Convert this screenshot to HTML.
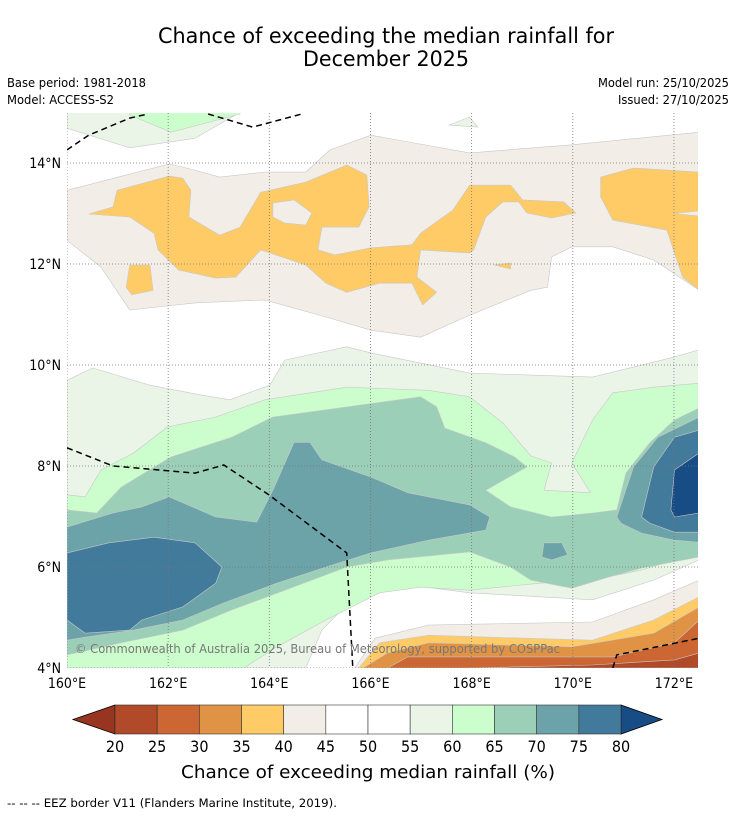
<!DOCTYPE html>
<html><head><meta charset="utf-8"><style>
html,body{margin:0;padding:0;background:#fff;}
svg{display:block;font-family:"DejaVu Sans Condensed","DejaVu Sans","Liberation Sans",sans-serif;}
</style></head><body>
<svg id="chart" width="736" height="816" viewBox="0 0 736 816" xmlns="http://www.w3.org/2000/svg">
<rect width="736" height="816" fill="#fff"/>
<text x="386" y="43" font-size="21" text-anchor="middle" textLength="456" lengthAdjust="spacingAndGlyphs">Chance of exceeding the median rainfall for</text>
<text x="386" y="66" font-size="21" text-anchor="middle" textLength="166" lengthAdjust="spacingAndGlyphs">December 2025</text>
<text x="7" y="87" font-size="12" textLength="139" lengthAdjust="spacingAndGlyphs">Base period: 1981-2018</text>
<text x="7" y="104" font-size="12" textLength="107" lengthAdjust="spacingAndGlyphs">Model: ACCESS-S2</text>
<text x="729" y="87" font-size="12" text-anchor="end" textLength="131" lengthAdjust="spacingAndGlyphs">Model run: 25/10/2025</text>
<text x="729" y="104" font-size="12" text-anchor="end" textLength="111" lengthAdjust="spacingAndGlyphs">Issued: 27/10/2025</text>
<defs><clipPath id="mapclip"><rect x="67" y="113" width="631" height="555"/></clipPath></defs>
<g id="map" clip-path="url(#mapclip)"></g>
<g id="axes"></g>
<g id="cbar"></g>
<text x="368" y="778" font-size="18" text-anchor="middle" textLength="374" lengthAdjust="spacingAndGlyphs">Chance of exceeding median rainfall (%)</text>
<text x="7" y="807" font-size="11.5" textLength="330" lengthAdjust="spacingAndGlyphs">--  --  -- EEZ border V11 (Flanders Marine Institute, 2019).</text>
</svg>
<script>
const lonTicks=[160,162,164,166,168,170,172];
const latTicks=[4,6,8,10,12,14];
const cbarLevels=[20,25,30,35,40,45,50,55,60,65,70,75,80];
const cbarColors=["#b04a28","#cc6633","#e09344","#fecb66","#f2ede7","#ffffff","#ffffff","#eaf5e8","#ccfdcc","#9ccfb8","#6ba3a8","#427a9c"];
const underColor="#983520", overColor="#174c85";
// contour regions: [colour class, flat lon/lat list]
const regions=[
["55",[160,15,160,14.69,161.24,14.3,162.53,14.49,163.42,15]],
["60",[161.24,15,161.24,14.95,162.06,14.61,163.42,14.97,163.42,15]],
["55",[167.55,14.75,167.96,14.91,168.12,14.71]],
["40",[160,13.46,162.02,13.98,162.29,13.92,163.02,13.72,163.91,13.82,164.72,13.82,165.2,14.26,166.01,14.55,167.96,14.2,169.98,14.36,172.5,14.61,172.5,11.48,171.6,12.08,170.79,12.34,169.98,12.34,169.58,12.14,169.5,11.54,169.17,11.48,167.88,10.95,166.99,10.55,166.01,10.69,165.12,10.95,163.91,11.29,162.53,11.23,161.24,11.09,160.67,11.94,160,12.47]],
["35",[160.43,12.99,160.91,13.13,160.99,13.46,162.02,13.74,162.29,13.7,162.45,13.46,162.41,12.93,163.02,12.57,163.42,12.73,163.83,13.42,164.72,13.62,165.53,13.96,165.93,13.76,165.97,13.13,165.77,12.73,165.04,12.73,164.96,12.28,165.3,12.18,166.01,12.32,166.82,12.38,166.99,12.61,167.63,13.07,167.96,13.56,168.77,13.56,169.01,13.27,169.82,13.23,170.06,13.01,169.58,12.91,169.09,13.01,168.93,13.23,168.62,13.23,168.28,12.93,168.04,12.28,167.96,12.22,166.99,12.28,166.92,11.74,167.31,11.44,167.03,11.19,166.82,11.62,166.18,11.62,165.53,11.44,165.12,11.62,164.72,11.98,163.83,12.28,163.34,11.74,162.94,11.72,162.21,11.88,161.8,12.28,161.72,12.61,161.24,12.93]],
["40",[164.07,13.21,164.49,13.27,164.84,13.01,164.72,12.77,164.31,12.81,164.07,12.93]],
["35",[170.55,13.72,171.2,13.9,172.5,13.82,172.5,11.48,172.17,11.74,171.86,12.67,170.79,12.87,170.55,13.33]],
["40",[172.0,13.0,172.5,13.05,172.5,12.95]],
["35",[161.24,11.98,161.64,11.98,161.7,11.48,161.28,11.39,161.17,11.54]],
["35",[168.44,11.98,168.77,12.02,168.77,11.9]],
["55",[160,9.7,160.51,9.94,161.64,9.6,162.63,9.41,163.22,9.31,164.01,9.6,164.31,10.1,165.53,10.36,166.01,10.24,167.96,9.84,170.39,9.76,172.01,10.16,172.5,10.3,172.5,6.14,171.6,5.74,170.39,5.35,169.35,5.41,167.96,5.49,166.01,5.74,165.04,4.75,164.72,4,160,4]],
["60",[160,7.43,160.36,7.39,160.67,7.92,161.32,8.26,161.98,8.77,162.94,8.97,163.91,9.31,165.53,9.56,167.15,9.5,167.96,9.37,168.62,8.85,169.17,8.2,169.58,8.06,169.43,7.52,170.35,7.47,169.98,8.06,170.39,8.91,170.79,9.45,171.6,9.56,172.5,9.64,172.5,6.28,171.36,5.94,170.39,5.74,169.35,5.68,167.96,5.54,166.99,5.6,166.18,5.49,165.12,4.95,164.15,4.42,163.5,4,160,4]],
["65",[160,7.13,160.59,7.07,161.07,7.58,162.06,8.18,163.26,8.57,164.07,8.97,165.53,9.17,166.99,9.37,167.31,9.17,167.47,8.75,168.28,8.46,168.85,8.18,169.09,7.98,168.28,7.52,168.77,7.19,169.58,6.99,170.39,7.07,170.87,7.13,171.05,7.86,171.52,8.46,172.01,8.91,172.5,9.15,172.5,6.2,171.36,5.98,170.71,5.8,169.98,5.58,169.17,5.74,168.77,6.0,167.96,6.3,166.34,6.14,165.53,6.0,164.31,5.54,163.26,5.15,162.29,4.75,161.07,4.5,160,4.26]],
["70",[160,6.79,160.91,7.07,161.48,7.19,162.02,7.39,162.94,6.99,163.75,6.89,164.07,7.52,164.49,8.47,164.8,8.47,165.04,8.12,166.01,7.78,166.74,7.47,167.96,7.23,168.36,6.99,168.28,6.73,167.15,6.53,166.01,6.28,165.12,6.0,164.15,5.68,163.1,5.29,162.29,4.95,161.32,4.75,160.36,4.61,160,4.55]],
["70",[170.87,6.99,171.2,7.98,171.68,8.57,172.5,8.97,172.5,6.49,172.01,6.53,171.36,6.67,170.95,6.87]],
["70",[169.43,6.48,169.78,6.48,169.9,6.24,169.58,6.14,169.39,6.2]],
["75",[160,6.28,160.83,6.48,161.72,6.59,162.53,6.48,163.06,6.0,162.94,5.68,162.29,5.21,161.48,4.95,161.24,4.75,160.36,4.69,160,4.95]],
["75",[171.36,6.99,171.6,7.98,172.01,8.57,172.5,8.71,172.5,6.69,172.01,6.69,171.52,6.87]],
["80",[171.94,7.13,172.01,7.92,172.5,8.26,172.5,7.07,172.01,6.99]],
["40",[165.69,4,166.09,4.59,167.15,4.85,170.39,4.91,171.6,5.35,172.5,5.74,172.5,4]],
["35",[165.77,4,166.18,4.5,167.15,4.65,168.36,4.61,170.39,4.55,171.6,4.95,172.5,5.41,172.5,4]],
["30",[165.85,4,166.34,4.3,167.15,4.5,169.98,4.42,171.6,4.69,172.5,5.21,172.5,4]],
["25",[166.34,4,166.74,4.22,168.77,4.22,170.79,4.22,172.01,4.5,172.5,4.95,172.5,4]],
["20",[167.96,4,170.39,4.06,172.01,4.16,172.5,4.3,172.5,4]]
];
const eezLines=[
[160,14.26,160.43,14.55,161.24,14.89,161.6,14.97],
[162.79,14.97,163.67,14.71,164.64,14.97],
[160,8.36,160.91,8.0,162.53,7.86,163.1,8.02,163.99,7.43,165.53,6.28,165.65,4],
[170.79,4,170.87,4.26,172.5,4.59]
];
const classColor={"20":"#b04a28","25":"#cc6633","30":"#e09344","35":"#fecb66","40":"#f2ede7","55":"#eaf5e8","60":"#ccfdcc","65":"#9ccfb8","70":"#6ba3a8","75":"#427a9c","80":"#174c85"};
const NS="http://www.w3.org/2000/svg";
const X=lon=>67+(lon-160)*50.58;
const Y=lat=>668-(lat-4)*50.5;
function mk(tag,attrs,parent){const e=document.createElementNS(NS,tag);for(const k in attrs)e.setAttribute(k,attrs[k]);parent.appendChild(e);return e;}
const map=document.getElementById('map');
regions.forEach((r,i)=>{
  const pts=[];for(let j=0;j<r[1].length;j+=2)pts.push(X(r[1][j]).toFixed(1)+','+Y(r[1][j+1]).toFixed(1));
  const p=mk('polygon',{points:pts.join(' '),fill:classColor[r[0]],stroke:"#c8c8c8","stroke-width":"0.6","stroke-linejoin":"round"},map);
  
  
});
// gridlines
lonTicks.forEach(v=>{const l=mk('line',{x1:X(v),x2:X(v),y1:113,y2:668,stroke:"#777","stroke-width":"0.8","stroke-dasharray":"1,2"},map);

});
latTicks.forEach(v=>{const l=mk('line',{x1:67,x2:698,y1:Y(v),y2:Y(v),stroke:"#777","stroke-width":"0.8","stroke-dasharray":"1,2"},map);

});
eezLines.forEach(a=>{const pts=[];for(let j=0;j<a.length;j+=2)pts.push(X(a[j]).toFixed(1)+','+Y(a[j+1]).toFixed(1));
const l=mk('polyline',{points:pts.join(' '),fill:"none",stroke:"#000","stroke-width":"1.5","stroke-dasharray":"6,4"},map);

});
const cp=mk('text',{x:75,y:653,"font-size":"12.5",fill:"#777",textLength:"485",lengthAdjust:"spacingAndGlyphs"},map);
cp.textContent="© Commonwealth of Australia 2025, Bureau of Meteorology, supported by COSPPac";


const axes=document.getElementById('axes');
lonTicks.forEach(v=>{const t=mk('text',{x:X(v),y:688,"font-size":"14","text-anchor":"middle"},axes);t.textContent=v+"°E";

});
latTicks.forEach(v=>{const t=mk('text',{x:61,y:Y(v)+5,"font-size":"14","text-anchor":"end"},axes);t.textContent=v+"°N";

});
// colorbar
const cb=document.getElementById('cbar');
const c0=115,c1=621,cy=705,ch=29;
const C=v=>c0+(v-cbarLevels[0])/(cbarLevels[cbarLevels.length-1]-cbarLevels[0])*(c1-c0);
const lt=mk('polygon',{points:`${c0},${cy} 73,${cy+ch/2} ${c0},${cy+ch}`,fill:underColor,stroke:"#000","stroke-width":"0.8"},cb);


const rt=mk('polygon',{points:`${c1},${cy} 662,${cy+ch/2} ${c1},${cy+ch}`,fill:overColor,stroke:"#000","stroke-width":"0.8"},cb);


cbarColors.forEach((col,i)=>{const r=mk('rect',{x:C(cbarLevels[i]),y:cy,width:C(cbarLevels[i+1])-C(cbarLevels[i]),height:ch,fill:col,stroke:"#333","stroke-width":"0.6"},cb);

});
cbarLevels.forEach(v=>{const t=mk('text',{x:C(v),y:752,"font-size":"16","text-anchor":"middle"},cb);t.textContent=v;

});
</script>
</body></html>
